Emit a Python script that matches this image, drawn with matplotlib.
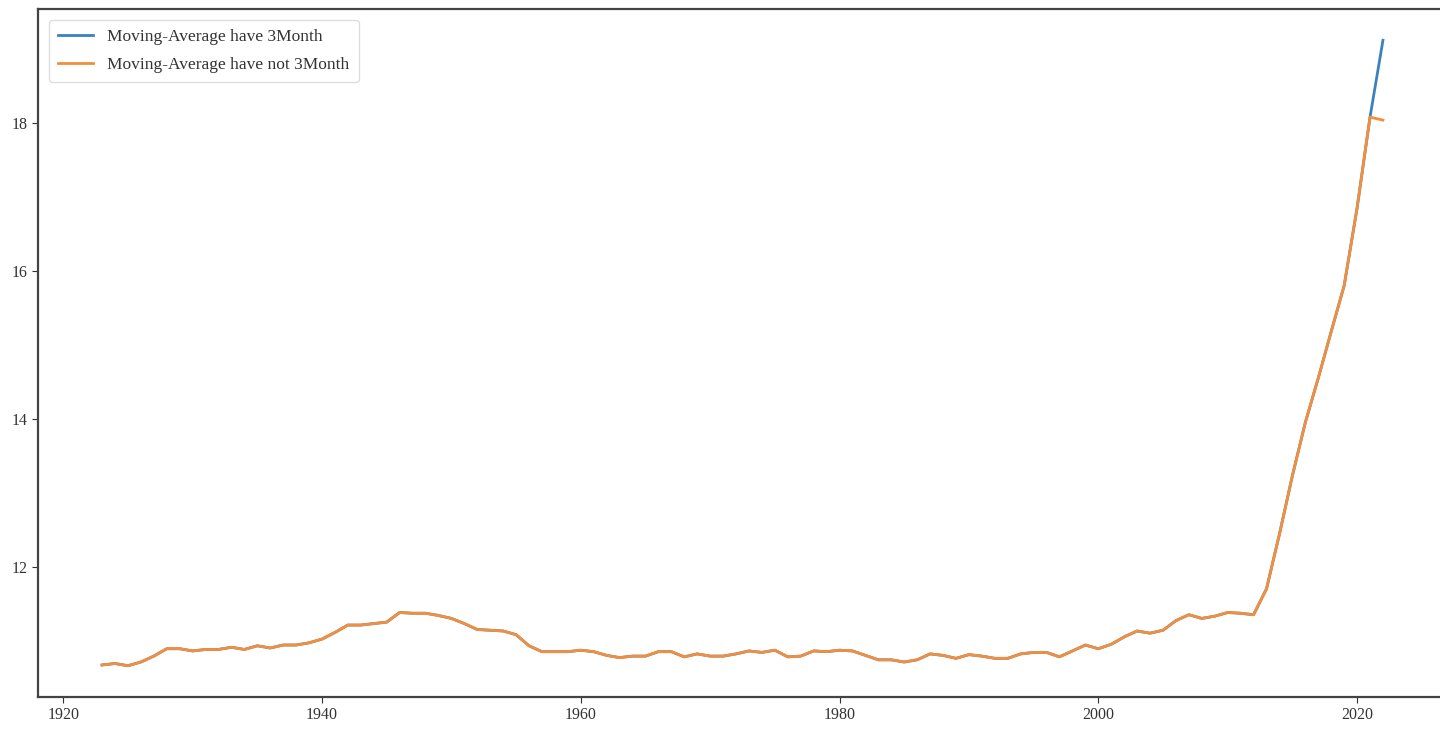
import matplotlib
matplotlib.use('Agg')
import matplotlib.pyplot as plt
import numpy as np

################################################################################
# Data                                          #
################################################################################
years = np.arange(1923, 2023)

ma_common = [10.67, 10.69, 10.66, 10.71, 10.79, 10.89, 10.89, 10.86, 10.88, 10.88,
             10.91, 10.88, 10.93, 10.90, 10.94, 10.94, 10.97, 11.02, 11.11, 11.21,
             11.21, 11.23, 11.25, 11.38, 11.37, 11.37, 11.34, 11.30, 11.23, 11.15,
             11.14, 11.13, 11.08, 10.93, 10.85, 10.85, 10.85, 10.87, 10.85, 10.80,
             10.77, 10.79, 10.79, 10.85, 10.85, 10.78, 10.82, 10.79, 10.79, 10.82,
             10.86, 10.84, 10.87, 10.78, 10.79, 10.86, 10.85, 10.87, 10.86, 10.80,
             10.74, 10.74, 10.71, 10.74, 10.82, 10.80, 10.76, 10.81, 10.79, 10.76,
             10.76, 10.82, 10.84, 10.84, 10.78, 10.86, 10.94, 10.89, 10.95, 11.05,
             11.13, 11.10, 11.14, 11.27, 11.35, 11.30, 11.33, 11.38, 11.37, 11.35,
             11.70, 12.44, 13.23, 13.95, 14.55, 15.18, 15.80, 16.85, 18.08]

ma_have_3month = ma_common + [19.12]
ma_not_3month = ma_common + [18.04]

label_have = "Moving-Average have 3Month"
label_not = "Moving-Average have not 3Month"

################################################################################
# Plot                                                                         #
################################################################################
plt.rcParams['font.family'] = ['Liberation Serif', 'DejaVu Serif']

fig = plt.figure(figsize=(14.4, 7.34), dpi=100)
ax = fig.add_axes([38 / 1440, 37 / 734, 1409 / 1440, 688 / 734])

ax.plot(years, ma_have_3month, color='#3b82bd', linewidth=2.0, label=label_have)
ax.plot(years, ma_not_3month, color='#f28e3c', linewidth=2.0, label=label_not)

for side in ['left', 'bottom', 'top', 'right']:
    ax.spines[side].set_color('#444444')
    ax.spines[side].set_linewidth(1.6)
ax.tick_params(labelsize=11.5, colors='#333333', length=4)
ax.set_yticks([12, 14, 16, 18])

ax.legend(loc='upper left', fontsize=12.5, handlelength=2.0, framealpha=1.0,
          edgecolor='#dddddd', labelspacing=0.65, borderpad=0.55,
          bbox_to_anchor=(0.0015, 0.997), labelcolor='#333333')

fig.savefig('out.png', dpi=100)
